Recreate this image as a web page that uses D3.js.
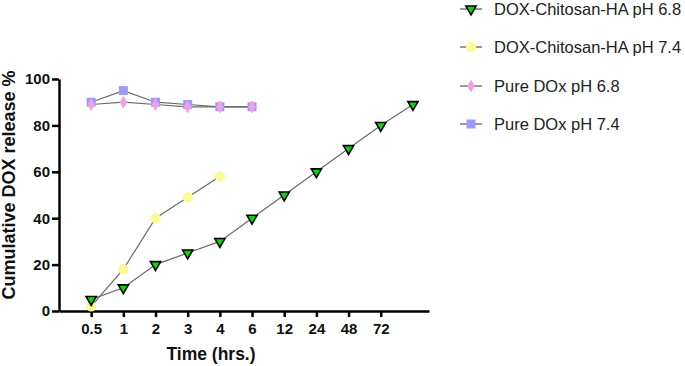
<!DOCTYPE html>
<html>
<head>
<meta charset="utf-8">
<script src="https://cdn.jsdelivr.net/npm/d3@7"></script>
<style>
  body { margin: 0; background: #fff; }
  text { font-family: "Liberation Sans", Arial, sans-serif; }
</style>
</head>
<body>
<div id="chart"></div>
<script>
// time points (categorical x axis); last point has no label
const timeLabels = ['0.5', '1', '2', '3', '4', '6', '12', '24', '48', '72'];
const yTicks = [0, 20, 40, 60, 80, 100];

const chitosan68 = [5, 10, 20, 25, 30, 40, 50, 60, 70, 80, 89];
const chitosan74 = [2, 18, 40, 49, 58];
const pure68 = [89, 90, 89, 88, 88, 88];
const pure74 = [90, 95, 90, 89, 88, 88];

const seriesNames = ['DOX-Chitosan-HA pH 6.8', 'DOX-Chitosan-HA pH 7.4', 'Pure DOx pH 6.8', 'Pure DOx pH 7.4'];

const series = [
    { name: seriesNames[0], values: chitosan68, shape: 'triangle', fill: '#00dd00' },
    { name: seriesNames[1], values: chitosan74, shape: 'circle', fill: '#fbfb9b' },
    { name: seriesNames[2], values: pure68, shape: 'diamond', fill: '#f2a0e6' },
    { name: seriesNames[3], values: pure74, shape: 'square', fill: '#9a9af8' }
];

const width = 685, height = 366;
const svg = d3.select('#chart')
    .append('svg')
    .attr('width', width)
    .attr('height', height);

const x = d3.scaleLinear().domain([-1, 10.5]).range([59, 429]);
const y = d3.scaleLinear().domain([0, 100]).range([311, 79]);

// axes
const xAxis = svg.append('g')
    .attr('transform', `translate(0,${y(0)})`)
    .call(d3.axisBottom(x)
        .tickValues(d3.range(timeLabels.length))
        .tickFormat(i => timeLabels[i])
        .tickSize(6)
        .tickSizeOuter(0));
const yAxis = svg.append('g')
    .attr('transform', `translate(${x(-1)},0)`)
    .call(d3.axisLeft(y)
        .tickValues(yTicks)
        .tickSize(7)
        .tickSizeOuter(0));

[xAxis, yAxis].forEach(a => {
    a.select('.domain').attr('stroke', '#000').attr('stroke-width', 2.5);
    a.selectAll('.tick line').attr('stroke', '#000').attr('stroke-width', 2.5);
    a.selectAll('.tick text')
        .attr('fill', '#111')
        .style('font-size', '15px')
        .style('font-weight', 'bold');
});
xAxis.selectAll('.tick text').attr('y', 12);
yAxis.selectAll('.tick text').attr('x', -9);

svg.append('text')
    .attr('x', 211)
    .attr('y', 360)
    .attr('text-anchor', 'middle')
    .style('font-size', '17.5px')
    .style('font-weight', 'bold')
    .attr('fill', '#111')
    .text('Time (hrs.)');

svg.append('text')
    .attr('transform', 'translate(15,185) rotate(-90)')
    .attr('text-anchor', 'middle')
    .style('font-size', '18px')
    .style('font-weight', 'bold')
    .attr('fill', '#111')
    .text('Cumulative DOX release %');

const symbolPath = {
    triangle: d3.symbol().type(d3.symbolTriangle).size(45),
    circle: d3.symbol().type(d3.symbolCircle).size(85),
    diamond: d3.symbol().type(d3.symbolDiamond).size(50),
    square: d3.symbol().type(d3.symbolSquare).size(80)
};

function drawMarker(g, s) {
    const p = g.append('path')
        .attr('d', symbolPath[s.shape]())
        .attr('fill', s.fill);
    if (s.shape === 'triangle') {
        p.attr('transform', 'rotate(180)')
            .attr('stroke', '#000')
            .attr('stroke-width', 1.6);
    }
}

const line = d3.line()
    .x((d, i) => x(i))
    .y(d => y(d));

// lines first, then markers (draw order: last series bottom)
const plot = svg.append('g');
series.slice().reverse().forEach(s => {
    plot.append('path')
        .attr('d', line(s.values))
        .attr('fill', 'none')
        .attr('stroke', '#6a6a6a')
        .attr('stroke-width', 1.2);
});
series.slice().reverse().forEach(s => {
    s.values.forEach((v, i) => {
        const g = plot.append('g').attr('transform', `translate(${x(i)},${y(v)})`);
        drawMarker(g, s);
    });
});

// legend
const legendY = [9, 47, 86, 124];
const legend = svg.append('g');
series.forEach((s, i) => {
    const g = legend.append('g').attr('transform', `translate(471,${legendY[i]})`);
    g.append('line')
        .attr('x1', -11).attr('x2', 11)
        .attr('stroke', '#555')
        .attr('stroke-width', 1.2);
    drawMarker(g, s);
    g.append('text')
        .attr('x', 23)
        .attr('dy', '0.35em')
        .style('font-size', '16.5px')
        .attr('fill', '#222')
        .text(s.name);
});
</script>
</body>
</html>
